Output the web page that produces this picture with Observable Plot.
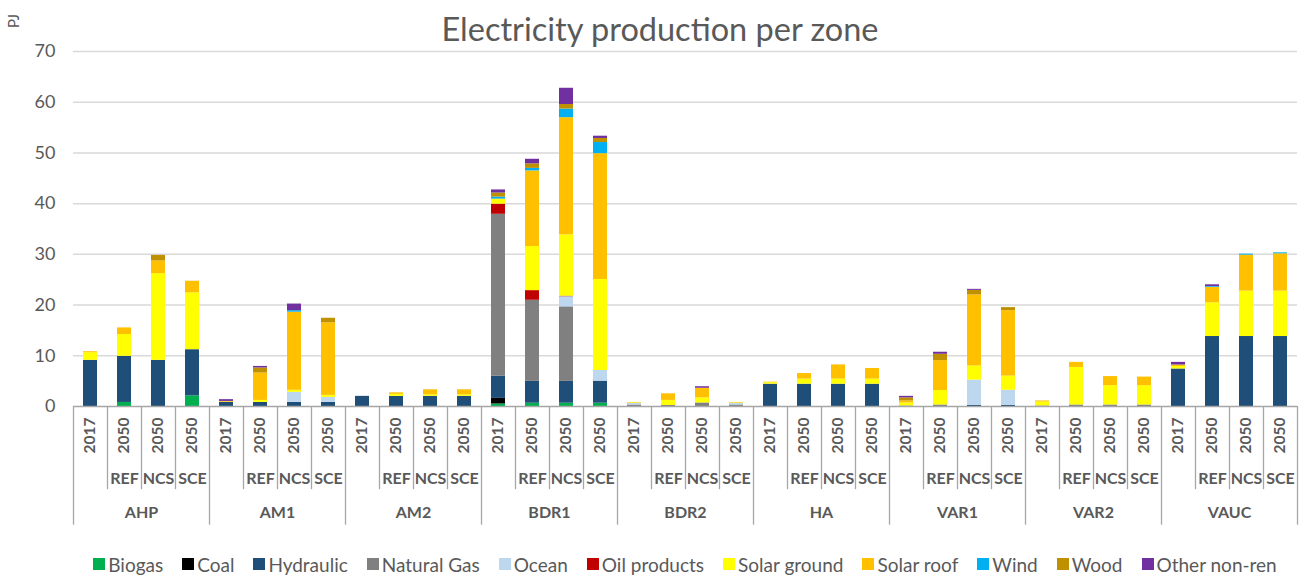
<!DOCTYPE html>
<html>
<head>
<meta charset="utf-8">
<script src="https://cdn.jsdelivr.net/npm/d3@7"></script>
<script src="https://cdn.jsdelivr.net/npm/@observablehq/plot@0.6"></script>
<style>
  html, body { margin: 0; padding: 0; background: #fff; }
  body { position: relative; width: 1301px; height: 575px; overflow: hidden; font-family: Lato, "Open Sans", sans-serif; color: #595959; }
  #title { position: absolute; left: 0; top: 9px; width: 1320px; text-align: center; font-size: 32.5px; color: #595959; }
  #unit { position: absolute; left: 6px; top: 12px; font-size: 15px; transform: rotate(-90deg); transform-origin: center; }
  #legend { display: flex; justify-content: center; gap: 19px; padding-left: 73px; padding-right: 4px; height: 38px; align-items: center; font-size: 19px; }
  .item { display: flex; align-items: center; gap: 3px; }
  .sw { width: 12px; height: 12px; display: inline-block; }
  svg { display: block; }
</style>
</head>
<body>
<div id="chart"></div>
<div id="legend"></div>
<div id="title">Electricity production per zone</div>
<div id="unit">PJ</div>
<script>
const zones = ["AHP","AM1","AM2","BDR1","BDR2","HA","VAR1","VAR2","VAUC"];
const years = ["2017","2050","2050","2050"];
const scenarios = ["","REF","NCS","SCE"];
const sources = ["Biogas","Coal","Hydraulic","Natural Gas","Ocean","Oil products","Solar ground","Solar roof","Wind","Wood","Other non-ren"];
const colors = ["#00b050","#000000","#1f4e79","#808080","#bdd7ee","#c00000","#ffff00","#ffc000","#00b0f0","#bf9000","#7030a0"];
const yTicks = [0,10,20,30,40,50,60,70];

// values per source: 9 zones x [2017, 2050 REF, 2050 NCS, 2050 SCE]
const biogas      = [0,0.8,0,2.1, 0,0,0,0, 0,0,0,0, 0.5,0.65,0.65,0.65, 0,0,0,0, 0,0,0,0, 0,0,0,0, 0,0,0,0, 0,0,0,0];
const coal        = [0,0,0,0, 0,0,0,0, 0,0,0,0, 1.1,0,0,0, 0,0,0,0, 0,0,0,0, 0,0,0,0, 0,0,0,0, 0,0,0,0];
const hydraulic   = [9.1,9.1,9.1,9.1, 0.8,0.8,0.8,0.8, 2.0,2.0,2.0,2.0, 4.4,4.3,4.3,4.35, 0,0,0,0, 4.4,4.4,4.4,4.4, 0,0,0.2,0.2, 0,0,0,0, 7.4,13.8,13.8,13.8];
const naturalGas  = [0,0,0,0, 0,0,0,0, 0,0,0,0, 31.9,16.0,14.7,0, 0.3,0.2,0.7,0.3, 0,0,0,0, 0.1,0.3,0,0, 0.1,0.3,0.3,0.3, 0,0,0,0];
const ocean       = [0,0,0,0, 0,0,2.0,1.0, 0,0,0,0, 0,0,2.0,2.1, 0.3,0,0,0.3, 0,0,0,0, 0,0,5.0,3.0, 0,0,0,0, 0,0,0,0];
const oil         = [0,0,0,0, 0,0,0,0, 0,0,0,0, 2.0,1.9,0.1,0, 0,0,0,0, 0,0,0,0, 0,0,0,0, 0,0,0,0, 0,0,0,0];
const solarGround = [1.5,4.3,17.1,11.2, 0.05,0.4,0.4,0.4, 0,0.4,0.3,0.3, 0.9,8.7,12.1,17.95, 0.1,1.0,1.0,0.1, 0.3,1.0,1.0,1.0, 0.6,2.85,2.8,2.8, 0.8,7.4,3.8,3.8, 0.5,6.65,8.95,8.95];
const solarRoof   = [0.2,1.3,2.5,2.3, 0.15,5.4,15.4,14.3, 0,0.3,1.0,1.0, 0.1,14.9,23.1,24.8, 0.1,1.3,1.9,0.1, 0.1,1.1,2.8,2.1, 0.4,5.9,14.0,12.9, 0.2,1.0,1.8,1.7, 0.2,3.05,7.1,7.35];
const wind        = [0,0,0,0, 0,0,0.3,0, 0,0,0,0, 0.4,0.5,1.7,2.2, 0,0,0,0, 0,0,0,0, 0,0,0,0, 0,0,0,0, 0,0.15,0.2,0.2];
const wood        = [0,0,1.1,0, 0,1.0,0,0.9, 0,0,0,0, 0.8,0.9,0.9,0.8, 0,0,0,0, 0,0,0,0, 0.6,1.25,0.9,0.6, 0,0,0,0, 0.1,0,0,0];
const otherNonRen = [0,0,0,0, 0.35,0.3,1.3,0, 0,0,0,0, 0.6,0.9,3.2,0.45, 0,0,0.3,0, 0,0,0,0, 0.3,0.4,0.2,0, 0,0,0,0, 0.5,0.35,0,0];

const series = [biogas, coal, hydraulic, naturalGas, ocean, oil, solarGround, solarRoof, wind, wood, otherNonRen];
const nSlots = zones.length * years.length;

// stacked segments
const segments = [];
for (let i = 0; i < nSlots; i++) {
  let acc = 0;
  series.forEach((vals, s) => {
    const v = vals[i];
    if (v > 0) {
      segments.push({i, source: sources[s], y1: acc, y2: acc + v});
      acc += v;
    }
  });
}
const slots = d3.range(nSlots).map(i => ({i, year: years[i % 4], scen: scenarios[i % 4]}));
const zoneRows = zones.map((z, k) => ({k, zone: z}));

const grey = "#595959";
const sepColor = "#a6a6a6";

const plot = Plot.plot({
  width: 1301,
  height: 545,
  marginLeft: 73,
  marginRight: 4,
  marginTop: 51,
  marginBottom: 139,
  style: {fontFamily: "Lato, 'Open Sans', sans-serif", background: "white"},
  x: {domain: [0, nSlots], axis: null},
  y: {domain: [0, 70], axis: null},
  color: {domain: sources, range: colors},
  marks: [
    Plot.ruleY(yTicks.filter(d => d > 0), {stroke: "#d9d9d9", strokeWidth: 1.5}),
    Plot.rectY(segments, {x1: "i", x2: d => d.i + 1, y1: "y1", y2: "y2", fill: "source", insetLeft: 10, insetRight: 10}),
    Plot.ruleY([0], {stroke: sepColor, strokeWidth: 1.5}),
    Plot.ruleX(d3.range(nSlots + 1), {y1: 0, y2: d => d % 4 === 0 ? -23.4 : -16.4, stroke: sepColor, strokeWidth: 1.3}),
    Plot.text(yTicks, {x: 0, y: d => d, text: d => String(d), textAnchor: "end", dx: -18, fontSize: 18, fill: grey}),
    Plot.text(slots, {x: d => d.i + 0.5, y: -5.7, text: "year", rotate: -90, fontWeight: "bold", fontSize: 15.5, fill: grey}),
    Plot.text(slots.filter(d => d.scen), {x: d => d.i + 0.5, y: -14.2, text: "scen", fontWeight: "bold", fontSize: 16, fill: grey}),
    Plot.text(zoneRows, {x: d => d.k * 4 + 2, y: -21.0, text: "zone", fontWeight: "bold", fontSize: 16, fill: grey})
  ]
});
document.getElementById("chart").appendChild(plot);

const legend = document.getElementById("legend");
sources.forEach((s, k) => {
  const it = document.createElement("div");
  it.className = "item";
  const sw = document.createElement("span");
  sw.className = "sw";
  sw.style.background = colors[k];
  const lb = document.createElement("span");
  lb.textContent = s;
  it.appendChild(sw);
  it.appendChild(lb);
  legend.appendChild(it);
});
</script>
</body>
</html>
